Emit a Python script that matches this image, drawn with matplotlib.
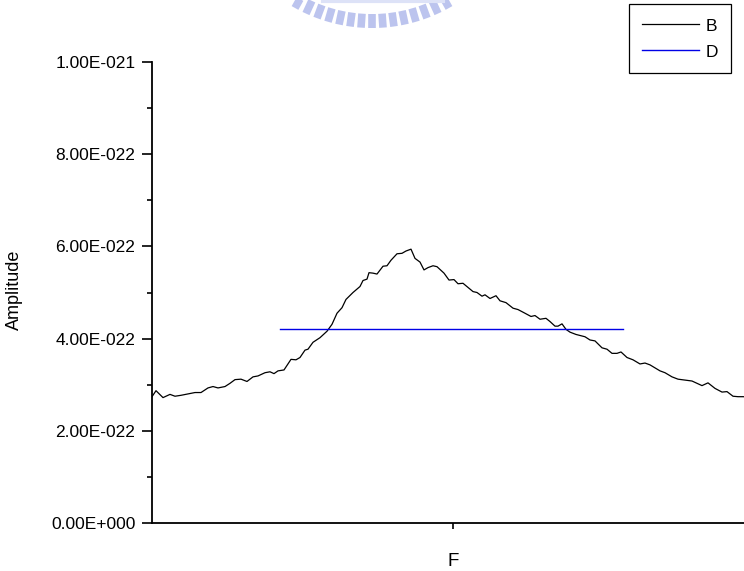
import numpy as np
import matplotlib
matplotlib.use("Agg")
import matplotlib.pyplot as plt
from matplotlib.lines import Line2D
from matplotlib.ticker import FixedLocator, FuncFormatter, MultipleLocator

plt.rcParams['font.family'] = ['Liberation Sans', 'DejaVu Sans']

# spectrum B (amplitude in units of 1e-22) and the flat level D
freq = [0, 4, 11, 18, 23, 29, 36, 43, 49, 56,
        61, 66, 73, 78, 83, 89, 95, 101, 106, 113,
        118, 122, 126, 132, 139, 144, 148, 153, 156, 161,
        168, 175, 180, 185, 190, 194, 201, 208, 211, 215,
        217, 221, 225, 231, 235, 239, 245, 250, 254, 259,
        263, 268, 272, 276, 281, 285, 292, 297, 302, 306,
        311, 316, 321, 325, 330, 333, 338, 344, 348, 354,
        361, 366, 373, 379, 383, 388, 394, 398, 403, 406,
        410, 414, 418, 424, 433, 438, 443, 450, 455, 460,
        465, 469, 475, 481, 488, 493, 498, 508, 513, 520,
        526, 533, 540, 545, 550, 556, 563, 570, 575, 581,
        586, 591, 598]
amp_b = [2.74, 2.87, 2.72, 2.79, 2.75, 2.77, 2.80, 2.83, 2.83, 2.93,
         2.96, 2.93, 2.96, 3.03, 3.11, 3.12, 3.07, 3.17, 3.19, 3.26,
         3.28, 3.24, 3.30, 3.32, 3.55, 3.54, 3.59, 3.75, 3.77, 3.92,
         4.02, 4.16, 4.31, 4.55, 4.67, 4.85, 5.00, 5.13, 5.26, 5.29,
         5.43, 5.42, 5.40, 5.57, 5.58, 5.70, 5.84, 5.85, 5.90, 5.94,
         5.74, 5.66, 5.49, 5.54, 5.58, 5.56, 5.42, 5.27, 5.28, 5.19,
         5.20, 5.11, 5.02, 5.00, 4.92, 4.95, 4.87, 4.93, 4.82, 4.78,
         4.66, 4.63, 4.55, 4.48, 4.50, 4.42, 4.44, 4.37, 4.27, 4.27,
         4.32, 4.20, 4.14, 4.09, 4.04, 3.97, 3.95, 3.80, 3.77, 3.68,
         3.68, 3.71, 3.59, 3.54, 3.45, 3.47, 3.43, 3.30, 3.26, 3.17,
         3.12, 3.10, 3.08, 3.03, 2.98, 3.04, 2.92, 2.84, 2.85, 2.75,
         2.74, 2.74, 2.73]
freq_d = [128, 471]
amp_d = [4.21, 4.21]
unit = 1e-22

W, H = 744, 571
fig = plt.figure(figsize=(W / 100, H / 100), dpi=100)
ax = fig.add_axes([152 / W, 48 / H, 602 / W, 461 / H])

ax.plot(freq, np.array(amp_b) * unit, color='black', lw=0.9, label='B')
ax.plot(freq_d, np.array(amp_d) * unit, color='#0000e6', lw=1.0, label='D')

ax.set_xlim(0, 602)
ax.set_ylim(0, 1e-21)

for s in ['top', 'right']:
    ax.spines[s].set_visible(False)
for s in ['left', 'bottom']:
    ax.spines[s].set_linewidth(1.3)


def sci_label(v, pos):
    if v == 0:
        return '0.00E+000'
    e = int(np.floor(np.log10(abs(v)) + 1e-9))
    m = v / 10 ** e
    return '%.2fE%s%03d' % (m, '-' if e < 0 else '+', abs(e))


ax.yaxis.set_major_locator(MultipleLocator(2e-22))
ax.yaxis.set_minor_locator(MultipleLocator(1e-22))
ax.yaxis.set_major_formatter(FuncFormatter(sci_label))
ax.yaxis.get_offset_text().set_visible(False)
ax.tick_params(axis='y', which='major', direction='out', length=7, width=1.2,
               pad=5, labelsize=12.5)
ax.tick_params(axis='y', which='minor', direction='out', length=3.6, width=1.2)

ax.xaxis.set_major_locator(FixedLocator([301]))
ax.xaxis.set_major_formatter(FuncFormatter(lambda v, p: ''))
ax.tick_params(axis='x', which='major', direction='out', length=4.5, width=1.2)

ax.set_ylabel('Amplitude', fontsize=13)
ax.yaxis.set_label_coords((23 - 152) / 602, 0.505)
ax.set_xlabel('F', fontsize=13.5)
ax.xaxis.set_label_coords(301 / 602, (523 - 553) / 461)

leg = ax.legend(loc='upper right', bbox_to_anchor=(731 / W, 1 - 4 / H),
                bbox_transform=fig.transFigure, borderaxespad=0,
                fontsize=12.5, frameon=True, fancybox=False, framealpha=1,
                handlelength=3.3, handleheight=1.0, handletextpad=0.35,
                labelspacing=0.55, borderpad=0.75)
leg.get_frame().set_edgecolor('black')
leg.get_frame().set_linewidth(0.9)

# faded emblem along the top edge
cx, cy, R = 372, -130, 158
for dx in np.arange(-77, 78, 11):
    th = np.arcsin(dx / R)
    xs = [cx + (R - 14) * np.sin(th), cx + R * np.sin(th)]
    ys = [cy + (R - 14) * np.cos(th), cy + R * np.cos(th)]
    fig.add_artist(Line2D([x / W for x in xs], [1 - y / H for y in ys],
                          transform=fig.transFigure, color='#bcc4ee',
                          lw=5.5, solid_capstyle='butt'))
fig.add_artist(Line2D([323 / W, 443 / W], [1 - 1 / H, 1 - 1 / H],
                      transform=fig.transFigure, color='#dde2f7', lw=3))

fig.savefig('out.png', dpi=100)
